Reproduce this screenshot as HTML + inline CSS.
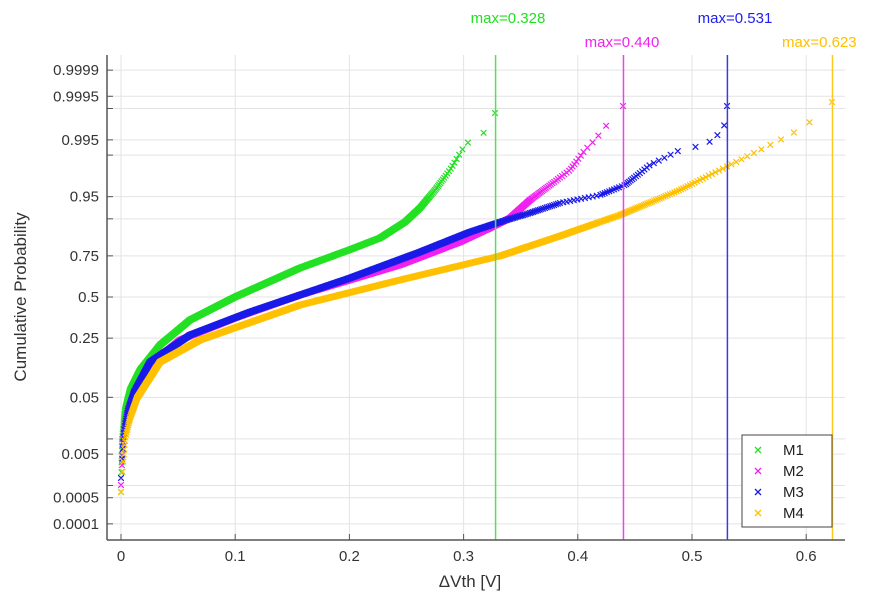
<!DOCTYPE html>
<html><head><meta charset="utf-8"><style>
body{margin:0;background:#fff;}
svg{display:block;font-family:"Liberation Sans",sans-serif;}
</style></head><body>
<svg id="s" width="873" height="609" viewBox="0 0 873 609" xmlns="http://www.w3.org/2000/svg">
<g id="grid" stroke="#e3e3e3" stroke-width="1"></g>
<g id="data" stroke-width="1.2" fill="none"></g>
<g id="vl" stroke-width="1.5"></g>
<g id="axes"></g>
<text x="508" y="23" fill="#22e022" font-size="15" text-anchor="middle">max=0.328</text>
<text x="622" y="47" fill="#f020f0" font-size="15" text-anchor="middle">max=0.440</text>
<text x="735" y="23" fill="#2020f0" font-size="15" text-anchor="middle">max=0.531</text>
<text x="782" y="47" fill="#ffc000" font-size="15">max=0.623</text>
<text transform="translate(26,297) rotate(-90)" text-anchor="middle" font-size="17" fill="#333">Cumulative Probability</text>
<text x="470" y="587" text-anchor="middle" font-size="17" fill="#333">ΔVth [V]</text>
<g id="leg"></g>
</svg>
<script>
var NS="http://www.w3.org/2000/svg";
function el(p,t,a,txt){var e=document.createElementNS(NS,t);for(var k in a)e.setAttribute(k,a[k]);if(txt!==undefined)e.textContent=txt;p.appendChild(e);return e;}
var X=function(v){return 121+1142*v;}, Y=function(z){return 297-61*z;};
function ninv(p){var a=[-39.6968302866538,220.946098424521,-275.928510446969,138.357751867269,-30.6647980661472,2.50662827745924],b=[-54.4760987982241,161.585836858041,-155.698979859887,66.8013186407157,-13.2806815528857],c=[-0.00778489400243029,-0.322396458041136,-2.40075827716184,-2.54973253934373,4.37466414146497,2.93816398269878],d=[0.00778469570904146,0.32246712907004,2.445134137143,3.75440866190742];var q,r;if(p<0.02425){q=Math.sqrt(-2*Math.log(p));return(((((c[0]*q+c[1])*q+c[2])*q+c[3])*q+c[4])*q+c[5])/((((d[0]*q+d[1])*q+d[2])*q+d[3])*q+1);}if(p>1-0.02425){q=Math.sqrt(-2*Math.log(1-p));return-(((((c[0]*q+c[1])*q+c[2])*q+c[3])*q+c[4])*q+c[5])/((((d[0]*q+d[1])*q+d[2])*q+d[3])*q+1);}q=p-0.5;r=q*q;return(((((a[0]*r+a[1])*r+a[2])*r+a[3])*r+a[4])*r+a[5])*q/(((((b[0]*r+b[1])*r+b[2])*r+b[3])*r+b[4])*r+1);}
var g=document.getElementById('grid');
var zl=[[0.9999,'0.9999'],[0.9995,'0.9995'],[0.999,''],[0.995,'0.995'],[0.99,''],[0.95,'0.95'],[0.9,''],[0.75,'0.75'],[0.5,'0.5'],[0.25,'0.25'],[0.05,'0.05'],[0.01,''],[0.005,'0.005'],[0.001,''],[0.0005,'0.0005'],[0.0001,'0.0001']];
var ax=document.getElementById('axes');
zl.forEach(function(t){var y=Y(ninv(t[0]));el(g,'line',{x1:107,x2:845,y1:y,y2:y});el(ax,'line',{x1:107,x2:113,y1:y,y2:y,stroke:'#555'});if(t[1])el(ax,'text',{x:99,y:y+5,'text-anchor':'end','font-size':15,fill:'#333'},t[1]);});
for(var i=0;i<=6;i++){var x=X(i/10);el(g,'line',{x1:x,x2:x,y1:55,y2:540});el(ax,'line',{x1:x,x2:x,y1:540,y2:534,stroke:'#555'});el(ax,'text',{x:x,y:561,'text-anchor':'middle','font-size':15,fill:'#333'},i==0?'0':(i/10).toString());}
el(ax,'line',{x1:107,x2:107,y1:55,y2:540,stroke:'#555','stroke-width':1.5});
el(ax,'line',{x1:107,x2:845,y1:540,y2:540,stroke:'#555','stroke-width':1.5});
var S=[['#22e022',[[121,492],[122,440],[125,410],[130,390],[140,370],[160,345],[190,320],[235,297],[300,268],[349,250],[380,238],[405,222],[420,208],[435,190],[450,170],[462,150],[470,140],[485,132],[495,113]]],
['#f020f0',[[121,485],[123,440],[127,415],[133,395],[150,365],[180,340],[235,318],[300,295],[400,265],[460,242],[490,228],[510,218],[530,200],[550,185],[570,170],[585,150],[595,140],[605,127],[623,106]]],
['#1a1ae8',[[121,478],[124,430],[128,410],[134,392],[150,362],[190,335],[250,312],[350,278],[420,252],[470,232],[500,222],[530,213],[560,203],[600,195],[625,185],[650,165],[680,150],[705,145],[715,138],[724,127],[727,106]]],
['#ffc000',[[121,492],[125,440],[130,418],[137,398],[160,362],[200,340],[300,305],[400,280],[500,256],[560,236],[620,215],[680,190],[720,170],[760,150],[790,135],[810,122],[832,102]]]];
var dg=document.getElementById('data'),N=700;
var zmin=Y(ninv(0.5/N)),zmax=Y(ninv((N-0.5)/N));
S.forEach(function(s){var P=s[1],d='';var y0=P[0][1],y1=P[P.length-1][1];
for(var i=1;i<=N;i++){var y=Y(ninv((i-0.5)/N));y=y0+(y1-y0)*(y-zmin)/(zmax-zmin);
y=Math.min(y0,Math.max(y1,y));
var x=P[P.length-1][0];for(var k=0;k<P.length-1;k++){if(y<=P[k][1]+1e-6&&y>=P[k+1][1]-1e-6){var t=(P[k][1]-y)/(P[k][1]-P[k+1][1]);x=P[k][0]+t*(P[k+1][0]-P[k][0]);break;}}
d+='M'+(x-2.8).toFixed(1)+' '+(y-2.8).toFixed(1)+'l5.6 5.6m0 -5.6l-5.6 5.6';}
el(dg,'path',{d:d,stroke:s[0]});});
var vl=document.getElementById('vl');[[0.328,'#55e055'],[0.44,'#f040f0'],[0.531,'#3a3ae8'],[0.623,'#ffc820']].forEach(function(v){el(vl,'line',{x1:X(v[0]),x2:X(v[0]),y1:55,y2:540,stroke:v[1]});});
var lg=document.getElementById('leg');el(lg,'rect',{x:742,y:435,width:90,height:92,fill:'#fff',stroke:'#444'});
['M1','M2','M3','M4'].forEach(function(n,i){var y=450+i*21;el(lg,'path',{d:'M'+(755)+' '+(y-3)+'l6 6m0 -6l-6 6',stroke:S[i][0],'stroke-width':1.3});el(lg,'text',{x:783,y:y+5,'font-size':15,fill:'#222'},n);});
</script>
</body></html>
